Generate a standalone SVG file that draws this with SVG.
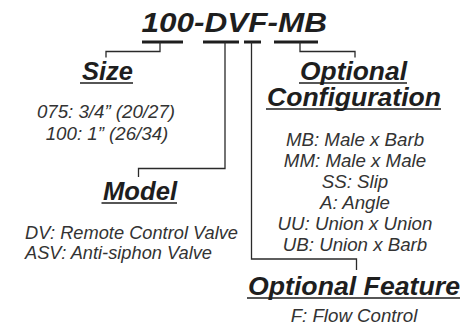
<svg xmlns="http://www.w3.org/2000/svg" width="472" height="334" viewBox="0 0 472 334">
<style>
.lbl{font-family:"Liberation Sans",Arial,sans-serif;font-weight:bold;font-style:italic;font-size:25px;fill:#1e1e1e}
.ttl{font-family:"Liberation Sans",Arial,sans-serif;font-weight:bold;font-style:italic;font-size:28px;fill:#1e1e1e}
.txt{font-family:"Liberation Sans",Arial,sans-serif;font-style:italic;font-size:18.7px;fill:#333}
.mid{text-anchor:middle}
.ul{stroke:#1e1e1e;stroke-width:1.6}
.bar{stroke:#1e1e1e;stroke-width:3}
.con{fill:none;stroke:#2a2a2a;stroke-width:1.3}
</style>
<rect width="472" height="334" fill="#fff"/>
<g id="title">
<text class="ttl" x="141.5" y="32" textLength="185.5" lengthAdjust="spacingAndGlyphs">100-DVF-MB</text>
</g>
<g id="connectors">
<line class="bar" x1="142" y1="42" x2="183" y2="42"/>
<line class="bar" x1="203" y1="42" x2="239" y2="42"/>
<line class="bar" x1="244" y1="42" x2="261" y2="42"/>
<line class="bar" x1="274" y1="42" x2="318" y2="42"/>
<polyline class="con" points="160,42 160,51.5 106,51.5 106,57.5"/>
<polyline class="con" points="225,42 225,168.5 138.5,168.5 138.5,177"/>
<polyline class="con" points="251.5,42 251.5,259 356.5,259 356.5,270"/>
<polyline class="con" points="300,42 300,51.5 355,51.5 355,57.5"/>
</g>
<g id="size">
<text class="lbl" x="82" y="80" textLength="51" lengthAdjust="spacingAndGlyphs">Size</text>
<line class="ul" x1="80" y1="83" x2="133" y2="83"/>
<text class="txt mid" x="106" y="117.5">075: 3/4” (20/27)</text>
<text class="txt mid" x="107" y="139.5">100: 1” (26/34)</text>
</g>
<g id="model">
<text class="lbl" x="103" y="200" textLength="74" lengthAdjust="spacingAndGlyphs">Model</text>
<line class="ul" x1="101.5" y1="203" x2="177" y2="203"/>
<text class="txt" x="25" y="239" textLength="213" lengthAdjust="spacingAndGlyphs">DV: Remote Control Valve</text>
<text class="txt" x="25" y="259" textLength="187" lengthAdjust="spacingAndGlyphs">ASV: Anti-siphon Valve</text>
</g>
<g id="configuration">
<text class="lbl" x="300" y="80" textLength="107" lengthAdjust="spacingAndGlyphs">Optional</text>
<line class="ul" x1="299" y1="83" x2="407" y2="83"/>
<text class="lbl" x="267" y="105.5" textLength="174" lengthAdjust="spacingAndGlyphs">Configuration</text>
<line class="ul" x1="266" y1="109" x2="441" y2="109"/>
<text class="txt mid" x="355" y="145.5">MB: Male x Barb</text>
<text class="txt mid" x="355" y="166.5">MM: Male x Male</text>
<text class="txt mid" x="355" y="187.5">SS: Slip</text>
<text class="txt mid" x="355" y="208.5">A: Angle</text>
<text class="txt mid" x="355" y="229.5">UU: Union x Union</text>
<text class="txt mid" x="355" y="250.5">UB: Union x Barb</text>
</g>
<g id="feature">
<text class="lbl" x="248" y="295" textLength="212" lengthAdjust="spacingAndGlyphs">Optional Feature</text>
<line class="ul" x1="247" y1="298" x2="460" y2="298"/>
<text class="txt mid" x="354" y="322">F: Flow Control</text>
</g>
</svg>
